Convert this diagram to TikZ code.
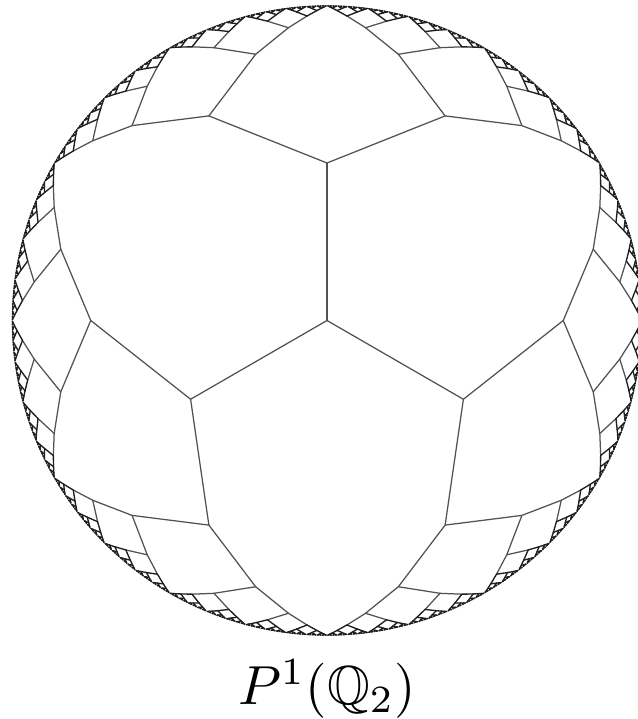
\documentclass[tikz,border=0pt]{standalone}
\usepackage{amssymb}
\tikzset{treeedge/.style={line width=1.25pt,draw=black!68,line cap=round,line join=round},
  rimedge/.style={line width=1.35pt,draw=black!88,line cap=round,line join=round},
  caption/.style={inner sep=0pt,scale=5.5,anchor=base}}
\begin{document}
\begin{tikzpicture}[x=1pt,y=1pt]
\useasboundingbox (0,0) rectangle (637,-719);
\begin{scope}[shift={(327,-320.5)}]
\coordinate (v-0-0) at (0,0);
\foreach \k in {0,1,2}{
  \pgfmathsetmacro\ang{90+120*\k}
  \coordinate (v-1-\k) at (\ang:157.5);
  \draw[treeedge] (v-0-0) -- (v-1-\k);
}
\foreach \n/\sty in {2/treeedge,3/treeedge,4/treeedge,5/treeedge,6/rimedge,7/rimedge,8/rimedge,9/rimedge,10/rimedge}{
  \pgfmathtruncatemacro\prevn{\n-1}
  \pgfmathtruncatemacro\lastk{3*2^(\n-1)-1}
  \pgfmathsetmacro\rad{315*(1-1/(2^\n))}
  \pgfmathsetmacro\wid{120/(2^(\n-1))}
  \foreach \k in {0,...,\lastk}{
    \pgfmathtruncatemacro\upk{floor(\k/2)}
    \pgfmathsetmacro\ang{30+\wid*(\k+0.5)}
    \coordinate (v-\n-\k) at (\ang:\rad);
    \draw[\sty] (v-\prevn-\upk) -- (v-\n-\k);
  }
}
\end{scope}
\node[caption] (label) at (327,-704) {$P^1(\mathbb{Q}_2)$};
\end{tikzpicture}
\end{document}
